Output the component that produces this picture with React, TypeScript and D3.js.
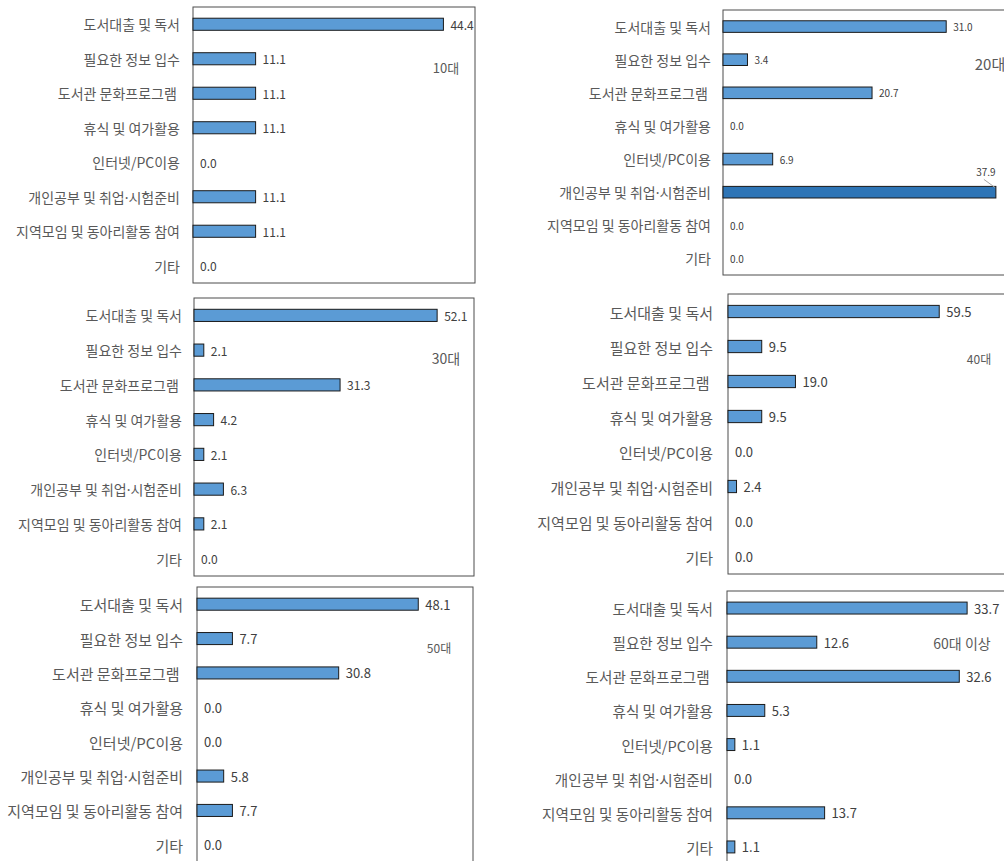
import * as d3 from "d3";

const CATEGORIES = [
  "도서대출 및 독서",
  "필요한 정보 입수",
  "도서관 문화프로그램 ",
  "휴식 및 여가활용",
  "인터넷/PC이용",
  "개인공부 및 취업·시험준비",
  "지역모임 및 동아리활동 참여",
  "기타",
];

const AGE_LABELS = ["10대", "20대", "30대", "40대", "50대", "60대 이상"];

const V10 = [44.4, 11.1, 11.1, 11.1, 0.0, 11.1, 11.1, 0.0];
const V20 = [31.0, 3.4, 20.7, 0.0, 6.9, 37.9, 0.0, 0.0];
const V30 = [52.1, 2.1, 31.3, 4.2, 2.1, 6.3, 2.1, 0.0];
const V40 = [59.5, 9.5, 19.0, 9.5, 0.0, 2.4, 0.0, 0.0];
const V50 = [48.1, 7.7, 30.8, 0.0, 0.0, 5.8, 7.7, 0.0];
const V60 = [33.7, 12.6, 32.6, 5.3, 1.1, 0.0, 13.7, 1.1];

const SERIES = [V10, V20, V30, V40, V50, V60];

// panel boxes and text sizes (layout only)
const PANELS = [
  { l: 193, t: 7, r: 475, b: 283, max: 50, cat: 14, val: 12, gap: 13, ax: 446, ay: 67, af: 13 },
  { l: 723, t: 10, r: 1011, b: 275, max: 40, cat: 14, val: 10, gap: 12, ax: 990, ay: 63, af: 15, hi: 5 },
  { l: 194, t: 298, r: 474, b: 576, max: 60, cat: 14, val: 12, gap: 12, ax: 446, ay: 358, af: 14 },
  { l: 728, t: 294, r: 1012, b: 574, max: 80, cat: 15, val: 13, gap: 15, ax: 979, ay: 358, af: 12 },
  { l: 197, t: 587, r: 473, b: 862, max: 60, cat: 15, val: 13, gap: 14, ax: 439, ay: 647, af: 12 },
  { l: 727, t: 591, r: 1012, b: 864, max: 40, cat: 14.6, val: 13, gap: 14, ax: 962, ay: 643, af: 14 },
];

const FONT = "'Noto Sans CJK KR', 'Noto Sans', sans-serif";

// the middle dot is drawn in a latin font so it stays narrow
function CatLabel({ text }: { text: string }) {
  const parts = text.split("·");
  return (
    <>
      {parts.map((s, i) => (
        <tspan key={i}>
          {i > 0 && <tspan fontFamily="'Noto Sans', sans-serif">·</tspan>}
          {s}
        </tspan>
      ))}
    </>
  );
}

function Panel({ idx }: { idx: number }) {
  const p = PANELS[idx];
  const values = SERIES[idx];
  const x = d3.scaleLinear().domain([0, p.max]).range([p.l, p.r]);
  const y = d3.scalePoint<string>().domain(CATEGORIES).range([p.t, p.b]).padding(0.5);
  const step = y.step();
  const bh = step * 0.35;
  const fmt = d3.format(".1f");

  return (
    <g>
      <rect x={p.l} y={p.t} width={p.r - p.l} height={p.b - p.t} fill="#fff" stroke="#4d4d4d" strokeWidth={1} />
      {CATEGORIES.map((c, i) => {
        const cy = y(c) ?? 0;
        const v = values[i];
        const isHi = p.hi === i;
        return (
          <g key={c}>
            <text
              x={p.l - p.gap}
              y={cy}
              textAnchor="end"
              dominantBaseline="central"
              fontSize={p.cat}
              fill="#595959"
              style={{ whiteSpace: "pre" }}
            >
              <CatLabel text={c} />
            </text>
            {v > 0 && (
              <rect
                x={x(0)}
                y={cy - bh / 2}
                width={x(v) - x(0)}
                height={bh}
                fill={isHi ? "#2e75b6" : "#5b9bd5"}
                stroke="#1a1a1a"
                strokeWidth={1}
              />
            )}
            {isHi ? (
              <g>
                <text x={x(v) - 10} y={cy - bh / 2 - 10} textAnchor="middle" fontSize={p.val} fill="#404040">
                  {fmt(v)}
                </text>
                <line
                  x1={x(v) - 12}
                  y1={cy - bh / 2 - 7}
                  x2={x(v) - 1}
                  y2={cy - bh / 2 + 1}
                  stroke="#a6a6a6"
                  strokeWidth={1}
                />
              </g>
            ) : (
              <text x={x(v) + 7} y={cy} dominantBaseline="central" fontSize={p.val} fill="#404040">
                {fmt(v)}
              </text>
            )}
          </g>
        );
      })}
      <text x={p.ax} y={p.ay} textAnchor="middle" dominantBaseline="central" fontSize={p.af} fill="#595959">
        {AGE_LABELS[idx]}
      </text>
    </g>
  );
}

export default function App() {
  return (
    <svg
      width={1004}
      height={861}
      style={{ position: "absolute", left: 0, top: 0, background: "#fff" }}
      fontFamily={FONT}
    >
      <rect x={0} y={0} width={1004} height={861} fill="#fff" />
      {PANELS.map((_, i) => (
        <Panel key={i} idx={i} />
      ))}
    </svg>
  );
}
